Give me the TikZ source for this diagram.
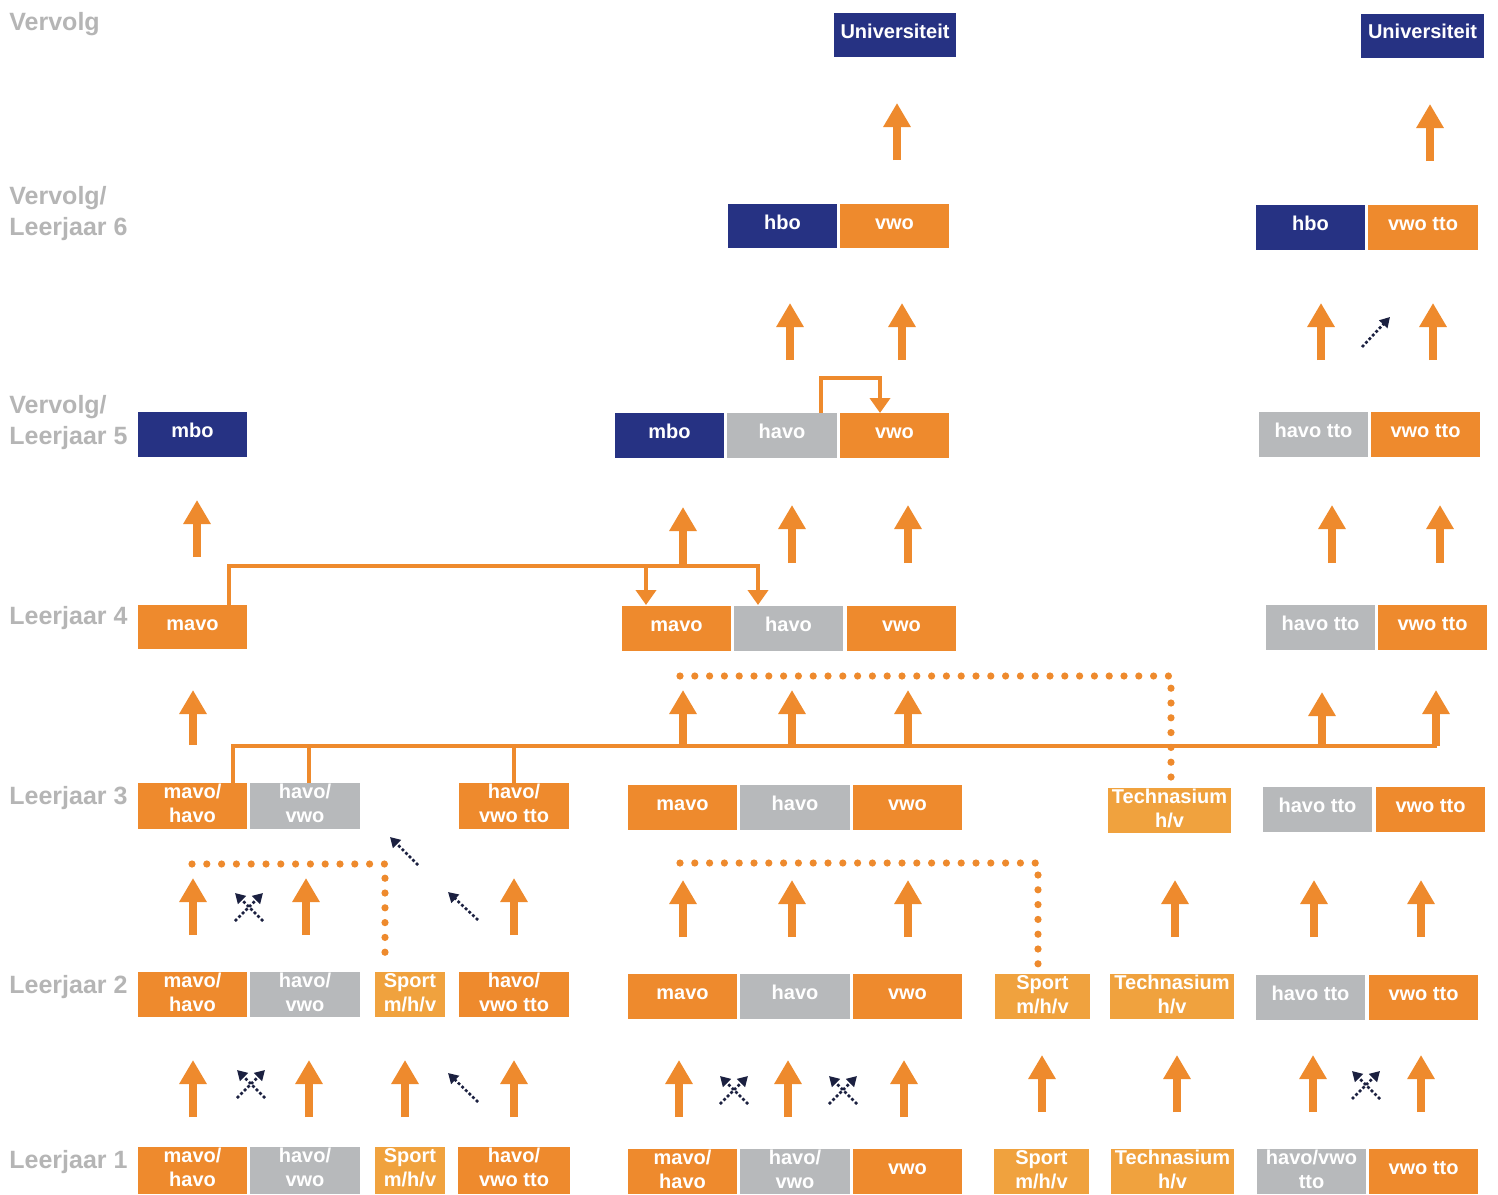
\documentclass[tikz,border=0pt]{standalone}
\usepackage{fontspec}
\setmainfont{Liberation Sans}
\usetikzlibrary{arrows.meta}
\definecolor{orng}{HTML}{EE8A2D}
\definecolor{lorng}{HTML}{F0A23E}
\definecolor{gry}{HTML}{B7B9BB}
\definecolor{nvy}{HTML}{263283}
\definecolor{lblgray}{HTML}{B5B5B5}
\definecolor{dnavy}{HTML}{1B2040}
\tikzset{
 box/.style={draw=none,inner sep=0pt,outer sep=0pt,rectangle},
 btxt/.style={anchor=base,text=white,font=\fontsize{10}{12}\selectfont\bfseries,inner sep=0pt},
 rowlbl/.style={anchor=base west,text=lblgray,font=\fontsize{12.5}{15}\selectfont\bfseries,inner sep=0pt},
 bigarr/.style={draw=orng,line width=4.2pt,-{Triangle[width=13pt,length=12pt]}},
 brk/.style={draw=orng,line width=2.2pt},
 brkarr/.style={brk,-{Triangle[width=10pt,length=7.5pt]}},
 darr/.style={draw=dnavy,line width=1.3pt,dash pattern=on 1.4pt off 1.1pt,-{Triangle[width=5.5pt,length=5pt]}},
 odots/.style={draw=orng,line width=3.6pt,line cap=round,dash pattern=on 0pt off 7.4pt},
}
% name, x1, y1, x2, y2, colour, text
\newcommand\onebox[7]{%
  \pgfmathsetmacro\bxw{(#4-#2)*0.5}\pgfmathsetmacro\bxh{(#5-#3)*0.5}%
  \node[box,fill=#6,minimum width=\bxw pt,minimum height=\bxh pt] (#1) at ({(#2+#4)/2},{(#3+#5)/2}) {};
  \node[btxt] (#1t) at ({(#2+#4)/2},{(#3+#5)/2+3}) {#7};}
% name, x1, y1, x2, y2, colour, line 1, line 2
\newcommand\twobox[8]{%
  \pgfmathsetmacro\bxw{(#4-#2)*0.5}\pgfmathsetmacro\bxh{(#5-#3)*0.5}%
  \node[box,fill=#6,minimum width=\bxw pt,minimum height=\bxh pt] (#1) at ({(#2+#4)/2},{(#3+#5)/2}) {};
  \node[btxt] (#1a) at ({(#2+#4)/2},{#3+15.5}) {#7};
  \node[btxt] (#1b) at ({(#2+#4)/2},{#3+39.5}) {#8};}
\newcommand\upar[3]{\draw[bigarr] (#1,#2) -- (#1,#3);}
\newcommand\crossarr[2]{%
  \draw[darr] ({#1-14},{#2+14}) -- ({#1+14},{#2-14});
  \draw[darr] ({#1+14},{#2+14}) -- ({#1-14},{#2-14});}
\begin{document}
\begin{tikzpicture}[x=0.5pt,y=-0.5pt]
\useasboundingbox (0,0) rectangle (1498,1194);
\fill[white] (0,0) rectangle (1498,1194);

% row labels
\node[rowlbl] (lv) at (9,31) {Vervolg};
\node[rowlbl] (l6a) at (9,204) {Vervolg/};
\node[rowlbl] (l6b) at (9,235) {Leerjaar 6};
\node[rowlbl] (l5a) at (9,413) {Vervolg/};
\node[rowlbl] (l5b) at (9,444) {Leerjaar 5};
\node[rowlbl] (l4) at (9,624) {Leerjaar 4};
\node[rowlbl] (l3) at (9,804) {Leerjaar 3};
\node[rowlbl] (l2) at (9,993) {Leerjaar 2};
\node[rowlbl] (l1) at (9,1168) {Leerjaar 1};

% brackets
\draw[brk] (233,783) -- (233,746) -- (1437,746);
\draw[brk] (309,783) -- (309,746);
\draw[brk] (514,783) -- (514,746);
\draw[brkarr] (229,605) -- (229,566) -- (758,566) -- (758,605);
\draw[brkarr] (646,566) -- (646,605);
\draw[brkarr] (821,413) -- (821,378) -- (880,378) -- (880,413);

% dotted orange lines
\draw[odots] (680,676) -- (1171,676) -- (1171,778);
\draw[odots] (192,864) -- (385,864) -- (385,966);
\draw[odots] (680,863) -- (1038,863) -- (1038,964);

% top
\onebox{univa}{834}{13}{956}{57}{nvy}{Universiteit}
\onebox{univb}{1361}{14}{1484}{58}{nvy}{Universiteit}
% leerjaar 6
\onebox{hbosa}{728}{204}{837}{248}{nvy}{hbo}
\onebox{vwosa}{840}{204}{949}{248}{orng}{vwo}
\onebox{hbosb}{1256}{205}{1365}{250}{nvy}{hbo}
\onebox{vwosb}{1368}{205}{1478}{250}{orng}{vwo tto}
% leerjaar 5
\onebox{mbova}{138}{412}{247}{457}{nvy}{mbo}
\onebox{mbovb}{615}{413}{724}{458}{nvy}{mbo}
\onebox{havovb}{727}{413}{837}{458}{gry}{havo}
\onebox{vwovb}{840}{413}{949}{458}{orng}{vwo}
\onebox{havovc}{1259}{412}{1368}{457}{gry}{havo tto}
\onebox{vwovc}{1371}{412}{1480}{457}{orng}{vwo tto}
% leerjaar 4
\onebox{mavoiva}{138}{605}{247}{649}{orng}{mavo}
\onebox{mavoivb}{622}{606}{731}{651}{orng}{mavo}
\onebox{havoivb}{734}{606}{843}{651}{gry}{havo}
\onebox{vwoivb}{847}{606}{956}{651}{orng}{vwo}
\onebox{havoivc}{1266}{605}{1375}{650}{gry}{havo tto}
\onebox{vwoivc}{1378}{605}{1487}{650}{orng}{vwo tto}
% leerjaar 3
\twobox{mhiii}{138}{783}{247}{829}{orng}{mavo/}{havo}
\twobox{hviii}{250}{783}{360}{829}{gry}{havo/}{vwo}
\twobox{hvtiii}{459}{783}{569}{829}{orng}{havo/}{vwo tto}
\onebox{mavoiii}{628}{785}{737}{830}{orng}{mavo}
\onebox{havoiii}{740}{785}{850}{830}{gry}{havo}
\onebox{vwoiii}{853}{785}{962}{830}{orng}{vwo}
\twobox{techiii}{1108}{788}{1231}{833}{lorng}{Technasium}{h/v}
\onebox{havoiiic}{1263}{787}{1372}{832}{gry}{havo tto}
\onebox{vwoiiic}{1376}{787}{1485}{832}{orng}{vwo tto}
% leerjaar 2
\twobox{mhii}{138}{972}{247}{1017}{orng}{mavo/}{havo}
\twobox{hvii}{250}{972}{360}{1017}{gry}{havo/}{vwo}
\twobox{spiia}{375}{972}{445}{1017}{lorng}{Sport}{m/h/v}
\twobox{hvtii}{459}{972}{569}{1017}{orng}{havo/}{vwo tto}
\onebox{mavoii}{628}{974}{737}{1019}{orng}{mavo}
\onebox{havoii}{740}{974}{850}{1019}{gry}{havo}
\onebox{vwoii}{853}{974}{962}{1019}{orng}{vwo}
\twobox{spiib}{995}{974}{1090}{1019}{lorng}{Sport}{m/h/v}
\twobox{techii}{1110}{974}{1234}{1019}{lorng}{Technasium}{h/v}
\onebox{havoiic}{1256}{975}{1365}{1020}{gry}{havo tto}
\onebox{vwoiic}{1369}{975}{1478}{1020}{orng}{vwo tto}
% leerjaar 1
\twobox{mhi}{138}{1147}{247}{1194}{orng}{mavo/}{havo}
\twobox{hvi}{250}{1147}{360}{1194}{gry}{havo/}{vwo}
\twobox{spia}{375}{1147}{445}{1194}{lorng}{Sport}{m/h/v}
\twobox{hvti}{458}{1147}{570}{1194}{orng}{havo/}{vwo tto}
\twobox{mhib}{628}{1149}{737}{1194}{orng}{mavo/}{havo}
\twobox{hvib}{740}{1149}{850}{1194}{gry}{havo/}{vwo}
\onebox{vwoib}{853}{1149}{962}{1194}{orng}{vwo}
\twobox{spib}{994}{1149}{1089}{1194}{lorng}{Sport}{m/h/v}
\twobox{techi}{1111}{1149}{1234}{1194}{lorng}{Technasium}{h/v}
\twobox{hvtic}{1257}{1149}{1366}{1194}{gry}{havo/vwo}{tto}
\onebox{vwoic}{1369}{1149}{1478}{1194}{orng}{vwo tto}

% big orange arrows
\upar{897}{160}{103}
\upar{1430}{161}{104}
\upar{790}{360}{303}
\upar{902}{360}{303}
\upar{1321}{360}{303}
\upar{1433}{360}{303}
\upar{197}{557}{500}
\upar{683}{566}{507}
\upar{792}{563}{505}
\upar{908}{563}{505}
\upar{1332}{563}{505}
\upar{1440}{563}{505}
\upar{193}{745}{690}
\upar{683}{746}{690}
\upar{792}{746}{690}
\upar{908}{746}{690}
\upar{1322}{746}{692}
\upar{1436}{746}{690}
\upar{193}{935}{878}
\upar{306}{935}{878}
\upar{514}{935}{878}
\upar{683}{937}{880}
\upar{792}{937}{880}
\upar{908}{937}{880}
\upar{1175}{937}{880}
\upar{1314}{937}{880}
\upar{1421}{937}{880}
\upar{193}{1117}{1060}
\upar{309}{1117}{1060}
\upar{405}{1117}{1060}
\upar{514}{1117}{1060}
\upar{679}{1117}{1060}
\upar{788}{1117}{1060}
\upar{904}{1117}{1060}
\upar{1042}{1112}{1055}
\upar{1177}{1112}{1055}
\upar{1313}{1112}{1055}
\upar{1421}{1112}{1055}

% dark dotted arrows
\crossarr{251}{1084}
\crossarr{249}{907}
\crossarr{734}{1090}
\crossarr{843}{1090}
\crossarr{1366}{1085}
\draw[darr] (478,1102) -- (448,1073);
\draw[darr] (478,920) -- (448,892);
\draw[darr] (418,865) -- (390,837);
\draw[darr] (1362,347) -- (1390,317);
\end{tikzpicture}
\end{document}
